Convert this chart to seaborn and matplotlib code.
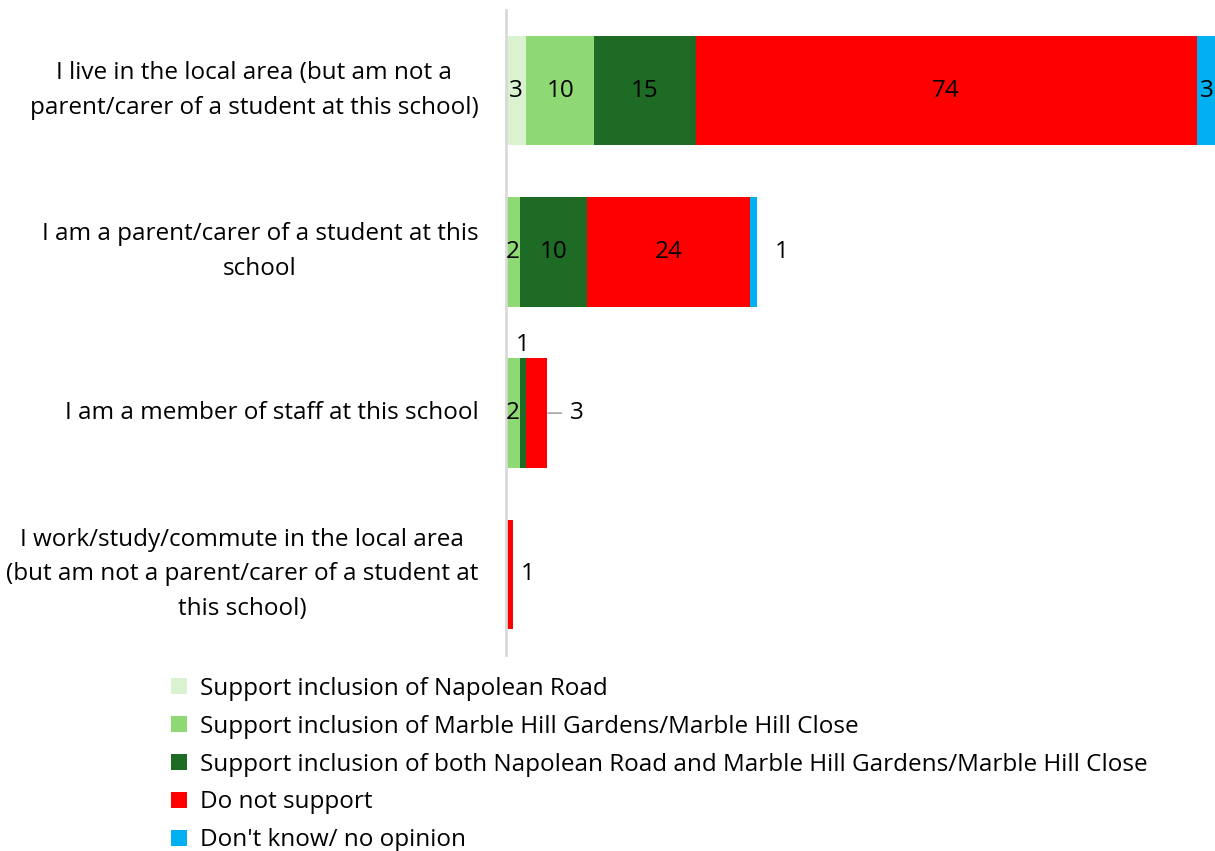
import numpy as np
import pandas as pd
import matplotlib.pyplot as plt
from matplotlib.patches import Patch
import seaborn as sns

groups = [
    "I live in the local area (but am not a\nparent/carer of a student at this school)",
    "I am a parent/carer of a student at this\nschool",
    "I am a member of staff at this school",
    "I work/study/commute in the local area\n(but am not a parent/carer of a student at\nthis school)",
]
series = [
    "Support inclusion of Napolean Road",
    "Support inclusion of Marble Hill Gardens/Marble Hill Close",
    "Support inclusion of both Napolean Road and Marble Hill Gardens/Marble Hill Close",
    "Do not support",
    "Don't know/ no opinion",
]
napolean = [3, 0, 0, 0]
marble_hill = [10, 2, 2, 0]
both_roads = [15, 10, 1, 0]
not_support = [74, 24, 3, 1]
dont_know = [3, 1, 0, 0]
colors = ["#DAF2D0", "#8ED973", "#1D6B24", "#FF0000", "#00B0F0"]

# labels that Excel moved out of their segment
label_place = {(2, 2): "above", (2, 3): "leader", (1, 4): "outside", (3, 3): "outside"}

sns.set_theme(style="white")
plt.rcParams["font.family"] = ["Open Sans", "DejaVu Sans"]
plt.rcParams["text.color"] = "black"
plt.rcParams["ytick.labelcolor"] = "black"
fs = 17.5

values = np.array([napolean, marble_hill, both_roads, not_support, dont_know])
cum = values.cumsum(axis=0).astype(float)
cum[values == 0] = np.nan  # empty segments are not drawn

fig = plt.figure(figsize=(12.15, 8.51), dpi=100)
ax = fig.add_axes([0.4165, 0.2303, 0.5835, 0.758])

# stacked bars: draw running totals from the back to the front
for i in reversed(range(len(series))):
    df = pd.DataFrame({"group": groups, "value": cum[i]})
    sns.barplot(data=df, x="value", y="group", orient="h", color=colors[i],
                saturation=1, width=0.68, linewidth=0, edgecolor="none", ax=ax)

totals = values.sum(axis=0)
for j in range(len(groups)):
    for i in range(len(series)):
        v = values[i][j]
        if v == 0:
            continue
        mid = cum[i][j] - v / 2
        mode = label_place.get((j, i))
        if mode == "above":
            ax.annotate(str(v), (mid, j - 0.34), xytext=(0, 1), textcoords="offset points",
                        ha="center", va="bottom", fontsize=fs)
        elif mode == "leader":
            ax.annotate(str(v), (cum[i][j], j), xytext=(17, 0), textcoords="offset points",
                        ha="left", va="center", fontsize=fs,
                        arrowprops=dict(arrowstyle="-", color="#A6A6A6", lw=1.2,
                                        shrinkA=4, shrinkB=1))
        elif mode == "outside":
            off = 13 if totals[j] > 10 else 6
            ax.annotate(str(v), (totals[j], j), xytext=(off, 0), textcoords="offset points",
                        ha="left", va="center", fontsize=fs)
        else:
            ax.text(mid, j, str(v), ha="center", va="center", fontsize=fs)

ax.set_xlim(0, 104.7)
ax.set_ylim(3.5, -0.5)
ax.set_xticks([])
ax.set_xlabel("")
ax.set_ylabel("")
ax.tick_params(axis="y", length=0, pad=20, labelsize=fs)
for lbl in ax.get_yticklabels():
    lbl.set_multialignment("center")
    lbl.set_linespacing(1.6)
    lbl.set_verticalalignment("center")
for s in ["top", "right", "bottom"]:
    ax.spines[s].set_visible(False)
ax.spines["left"].set_color("#D9D9D9")
ax.spines["left"].set_linewidth(2)

handles = [Patch(facecolor=c, edgecolor="none") for c in colors]
fig.legend(handles, series, loc="upper left", bbox_to_anchor=(0.133, 0.216),
           frameon=False, fontsize=fs, handlelength=0.65, handleheight=0.65,
           handletextpad=0.55, labelspacing=0.57, borderaxespad=0)

fig.savefig("out.png", dpi=100)
